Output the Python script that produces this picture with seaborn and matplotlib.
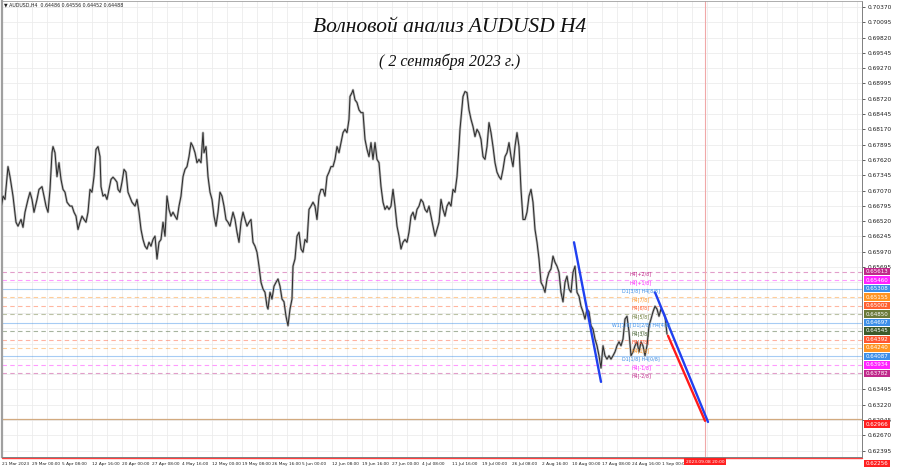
import matplotlib
matplotlib.use("Agg")
import matplotlib.pyplot as plt
import matplotlib.transforms as mtransforms
import numpy as np
import seaborn as sns

# --- price path (H4 closes, sampled along the chart time axis) ---
bar_x = [0, 3, 5, 8, 10, 13, 16, 18, 21, 23, 25, 28, 30, 32, 34, 37, 39, 42, 44, 46,
         48, 50, 52, 53, 55, 57, 59, 61, 63, 65, 67, 70, 72, 74, 76, 78, 80, 82, 84, 86,
         88, 90, 92, 94, 96, 98, 100, 101, 103, 105, 107, 109, 111, 113, 115, 117, 118, 120, 122, 124,
         126, 128, 130, 132, 135, 137, 139, 141, 143, 145, 147, 149, 151, 153, 155, 157, 159, 161, 163, 165,
         167, 169, 171, 173, 175, 177, 179, 181, 183, 185, 187, 189, 191, 193, 195, 197, 199, 201, 203, 204,
         206, 208, 210, 212, 214, 216, 218, 220, 222, 224, 226, 228,
         230, 233, 235, 237, 239, 241, 243, 245, 247, 249, 251, 253, 255, 257, 259, 261, 263, 265, 267, 268,
         270, 272, 274, 276, 278, 280, 282, 284, 286, 288, 290, 292, 293, 295, 297, 299, 301, 303, 305, 307,
         309, 311, 313, 315, 317, 319, 321, 323, 325, 327, 329, 331, 333, 335, 337, 339, 341, 343, 345, 347,
         349, 350, 352, 353, 355, 357, 359, 361, 363, 365, 367, 369, 371, 373, 375, 377, 379, 381, 383, 385,
         387, 389, 391, 393, 395, 397, 399, 401, 403, 405, 407, 409, 411, 413, 415, 417, 419, 421, 423, 425,
         427, 429, 431, 433, 435, 437, 439, 441, 443, 445, 447, 449, 451, 453, 455, 457, 459,
         460, 463, 465, 467, 469, 471, 473, 475, 477, 479, 481, 483, 485, 487, 489, 491, 493, 495, 497, 499,
         501, 503, 505, 507, 509, 511, 513, 515, 517, 519, 521, 523, 525, 527, 529, 531, 533, 535, 537, 539,
         541, 543, 545, 547, 549, 551, 553, 555, 557, 559, 561, 563, 565, 567, 569, 571, 573, 575, 577, 579,
         581, 583, 585, 587, 589, 591, 593, 595, 597, 599, 601, 603, 605, 607, 609, 611, 613, 615, 617, 619,
         621, 623, 625, 627, 629, 631, 633, 635, 637, 639, 641, 643, 645, 647, 649, 651, 653, 655, 657, 659,
         661, 663, 665, 667]
close = [0.6662, 0.6697, 0.6691, 0.6750, 0.6732, 0.6697, 0.6650, 0.6643, 0.6655, 0.6641, 0.6668, 0.6691, 0.6704, 0.6691, 0.6668, 0.6691, 0.6709, 0.6714, 0.6697, 0.6679,
         0.6668, 0.6709, 0.6775, 0.6786, 0.6775, 0.6732, 0.6757, 0.6727, 0.6709, 0.6704, 0.6686, 0.6679, 0.6679, 0.6668, 0.6661, 0.6637, 0.6650, 0.6661, 0.6655, 0.6650,
         0.6668, 0.6709, 0.6704, 0.6732, 0.6781, 0.6786, 0.6768, 0.6714, 0.6697, 0.6700, 0.6691, 0.6709, 0.6727, 0.6731, 0.6727, 0.6722, 0.6709, 0.6704, 0.6722, 0.6745,
         0.6740, 0.6704, 0.6695, 0.6686, 0.6679, 0.6691, 0.6668, 0.6637, 0.6619, 0.6607, 0.6602, 0.6614, 0.6607, 0.6619, 0.6625, 0.6584, 0.6614, 0.6619, 0.6650, 0.6625,
         0.6697, 0.6673, 0.6661, 0.6668, 0.6661, 0.6655, 0.6679, 0.6697, 0.6732, 0.6745, 0.6750, 0.6768, 0.6793, 0.6786, 0.6775, 0.6757, 0.6763, 0.6757, 0.6811, 0.6775,
         0.6786, 0.6732, 0.6704, 0.6691, 0.6661, 0.6643, 0.6668, 0.6704, 0.6697, 0.6679, 0.6655, 0.6650,
         0.6643, 0.6668, 0.6655, 0.6632, 0.6614, 0.6650, 0.6668, 0.6655, 0.6643, 0.6650, 0.6655, 0.6614, 0.6607, 0.6596, 0.6571, 0.6542, 0.6530, 0.6524, 0.6499, 0.6494,
         0.6524, 0.6512, 0.6535, 0.6542, 0.6548, 0.6535, 0.6512, 0.6507, 0.6481, 0.6464, 0.6494, 0.6512, 0.6571, 0.6584, 0.6625, 0.6632, 0.6602, 0.6596, 0.6619, 0.6614,
         0.6673, 0.6679, 0.6686, 0.6679, 0.6655, 0.6697, 0.6709, 0.6709, 0.6697, 0.6732, 0.6740, 0.6750, 0.6750, 0.6763, 0.6786, 0.6775, 0.6793, 0.6811, 0.6817, 0.6811,
         0.6835, 0.6876, 0.6883, 0.6888, 0.6870, 0.6865, 0.6852, 0.6847, 0.6847, 0.6799, 0.6781, 0.6768, 0.6793, 0.6763, 0.6793, 0.6763, 0.6757, 0.6714, 0.6686, 0.6673,
         0.6679, 0.6673, 0.6679, 0.6709, 0.6679, 0.6643, 0.6625, 0.6602, 0.6614, 0.6619, 0.6614, 0.6632, 0.6661, 0.6668, 0.6655, 0.6673, 0.6679, 0.6691, 0.6686, 0.6673,
         0.6668, 0.6679, 0.6661, 0.6643, 0.6625, 0.6637, 0.6650, 0.6691, 0.6673, 0.6661, 0.6679, 0.6686, 0.6679, 0.6709, 0.6704, 0.6732, 0.6786,
         0.6817, 0.6876, 0.6885, 0.6883, 0.6852, 0.6835, 0.6822, 0.6804, 0.6817, 0.6811, 0.6799, 0.6768, 0.6763, 0.6786, 0.6829, 0.6811, 0.6786, 0.6757, 0.6740, 0.6732,
         0.6727, 0.6745, 0.6768, 0.6775, 0.6793, 0.6768, 0.6750, 0.6786, 0.6811, 0.6786, 0.6709, 0.6655, 0.6655, 0.6668, 0.6697, 0.6709, 0.6686, 0.6637, 0.6614, 0.6584,
         0.6542, 0.6535, 0.6524, 0.6548, 0.6560, 0.6566, 0.6589, 0.6578, 0.6571, 0.6560, 0.6524, 0.6507, 0.6542, 0.6553, 0.6530, 0.6524, 0.6560, 0.6571, 0.6524, 0.6517,
         0.6499, 0.6489, 0.6476, 0.6494, 0.6489, 0.6464, 0.6458, 0.6440, 0.6428, 0.6410, 0.6388, 0.6428, 0.6410, 0.6404, 0.6410, 0.6404, 0.6410, 0.6417, 0.6428, 0.6435,
         0.6428, 0.6440, 0.6476, 0.6481, 0.6453, 0.6410, 0.6417, 0.6428, 0.6435, 0.6417, 0.6435, 0.6428, 0.6410, 0.6428, 0.6464, 0.6476, 0.6489, 0.6499, 0.6494, 0.6481,
         0.6494, 0.6489, 0.6481, 0.6449]

# --- Murrey levels ---
level_prices = [0.65613, 0.65460, 0.65308, 0.65155, 0.65002, 0.64850, 0.64697,
                0.64545, 0.64392, 0.64240, 0.64087, 0.63934, 0.63782]
level_names = ["H4[+2/8]", "H4[+1/8]", "D1[3/8] H4[8/8]", "H4[7/8]", "H4[6/8]", "H4[5/8]",
               "W1[1/8] D1[2/8] H4[4/8]", "H4[3/8]", "H4[2/8]", "H4[1/8]",
               "D1[1/8] H4[0/8]", "H4[-1/8]", "H4[-2/8]"]
level_colors = ["#c0288a", "#ff22ff", "#3d8fe8", "#ff9422", "#ff6030", "#6b7a3a", "#3d8fe8",
                "#3d5a2a", "#ff5530", "#ff9422", "#3d8fe8", "#ff22ff", "#c0288a"]

# --- trend lines (time position, price) ---
wave_a_x = [574, 601]
wave_a_y = [0.6614, 0.6363]
wave_b_x = [655, 708]
wave_b_y = [0.6524, 0.6291]
target_x = [668, 705]
target_y = [0.6446, 0.6293]

target_level = 0.62966
bottom_level = 0.62256
now_x = 705

y_ticks = [0.70370, 0.70095, 0.69820, 0.69545, 0.69270, 0.68995, 0.68720, 0.68445,
           0.68170, 0.67895, 0.67620, 0.67345, 0.67070, 0.66795, 0.66520, 0.66245,
           0.65970, 0.65695, 0.63495, 0.63220, 0.62945, 0.62670, 0.62395]
x_labels = ["21 Mar 2023", "29 Mar 00:00", "5 Apr 08:00", "12 Apr 16:00", "20 Apr 00:00",
            "27 Apr 08:00", "4 May 16:00", "12 May 00:00", "19 May 08:00", "26 May 16:00",
            "5 Jun 00:00", "12 Jun 08:00", "19 Jun 16:00", "27 Jun 00:00", "4 Jul 08:00",
            "11 Jul 16:00", "19 Jul 00:00", "26 Jul 08:00", "2 Aug 16:00", "10 Aug 00:00",
            "17 Aug 08:00", "24 Aug 16:00", "1 Sep 00:00"]

sns.set_theme(style="white")
plt.rcParams["font.family"] = ["DejaVu Sans"]

fig = plt.figure(figsize=(9, 4.68), dpi=100)
fig.patch.set_facecolor("white")
ax = fig.add_axes([2 / 900, 11 / 468, 860 / 900, 456 / 468])
ax.set_xlim(2, 862)
ax.set_ylim(0.6228, 0.70477)

# grid
for gx in np.arange(2, 862, 15):
    ax.axvline(gx, color="#ececec", lw=0.6, zorder=0)
for gy in np.arange(0.62395, 0.705, 0.00275):
    ax.axhline(gy, color="#ececec", lw=0.6, zorder=0)

# levels
for p, c in zip(level_prices, level_colors):
    solid = c == "#3d8fe8"
    ax.axhline(p, color=c, lw=0.8, alpha=0.45, ls="-" if solid else (0, (4, 3)), zorder=1)
ax.axhline(target_level, color="#d2aa80", lw=0.9, zorder=1)
ax.axhline(bottom_level, color="#ff4040", lw=1.0, zorder=1, clip_on=False)
ax.axvline(now_x, color="#f0a8a8", lw=0.8, zorder=1)

# price
sns.lineplot(x=bar_x, y=close, ax=ax, color="#b4b4b4", lw=1.7, estimator=None, sort=False, zorder=2)
sns.lineplot(x=bar_x, y=close, ax=ax, color="#2a2a2a", lw=0.7, estimator=None, sort=False, zorder=3)

# wave lines
ax.plot(wave_a_x, wave_a_y, color="#2040f0", lw=1.7, zorder=4)
ax.plot(wave_b_x, wave_b_y, color="#2040f0", lw=1.7, zorder=4)
ax.plot(target_x, target_y, color="#ff1a1a", lw=1.7, zorder=4)

# level names on chart
for p, n, c in zip(level_prices, level_names, level_colors):
    ax.text(641, p, n, color=c, fontsize=3.4, ha="center", va="top", zorder=5)

# right axis
ax.yaxis.tick_right()
ax.set_yticks(y_ticks)
ax.set_yticklabels([f"{v:.5f}" for v in y_ticks], fontsize=4.2, color="#202020")
ax.tick_params(axis="y", length=2, width=0.5, pad=2, colors="#202020")
trans_y = mtransforms.blended_transform_factory(ax.transAxes, ax.transData)
for p, c in zip(level_prices, level_colors):
    ax.text(1.0045, p, f"{p:.5f}", transform=trans_y, fontsize=4.0, color="white",
            ha="left", va="center", clip_on=False,
            bbox=dict(boxstyle="square,pad=0.25", fc=c, ec="none"))
for p in [target_level, bottom_level]:
    ax.text(1.0045, p - 0.00048, f"{p:.5f}", transform=trans_y, fontsize=4.0, color="white",
            ha="left", va="top", clip_on=False,
            bbox=dict(boxstyle="square,pad=0.25", fc="#ff2020", ec="none"))

# bottom axis
ax.set_xticks([2 + 30 * k for k in range(len(x_labels))])
ax.set_xticklabels(x_labels, fontsize=3.1, ha="left", color="#202020")
ax.tick_params(axis="x", length=2, width=0.5, pad=1.5, colors="#202020")
trans_x = mtransforms.blended_transform_factory(ax.transData, ax.transAxes)
ax.text(now_x, -0.006, "2023.09.08 20:00", transform=trans_x, fontsize=3.2, color="white",
        ha="center", va="top", clip_on=False,
        bbox=dict(boxstyle="square,pad=0.3", fc="#ff2020", ec="none"))

ax.set_xlabel("")
ax.set_ylabel("")
for side in ["left", "top"]:
    ax.spines[side].set_color("#a0a0a0")
ax.spines["left"].set_linewidth(1.6)
ax.spines["top"].set_linewidth(0.6)
for side in ["right", "bottom"]:
    ax.spines[side].set_color("#808080")
    ax.spines[side].set_linewidth(0.7)

# header and title
fig.text(4 / 900, 1 - 4.5 / 468, "\u25bc AUDUSD,H4  0.64486 0.64556 0.64452 0.64488",
         fontsize=3.4, va="center", ha="left", color="#202020")
fig.text(0.5, 1 - 27 / 468, "Волновой анализ AUDUSD H4", fontsize=15.5,
         family="Liberation Serif", style="italic", ha="center", va="center", color="#111111")
fig.text(0.5, 1 - 62 / 468, "( 2 сентября 2023 г.)", fontsize=11.5,
         family="Liberation Serif", style="italic", ha="center", va="center", color="#111111")

fig.savefig("out.png", dpi=100, facecolor="white")
